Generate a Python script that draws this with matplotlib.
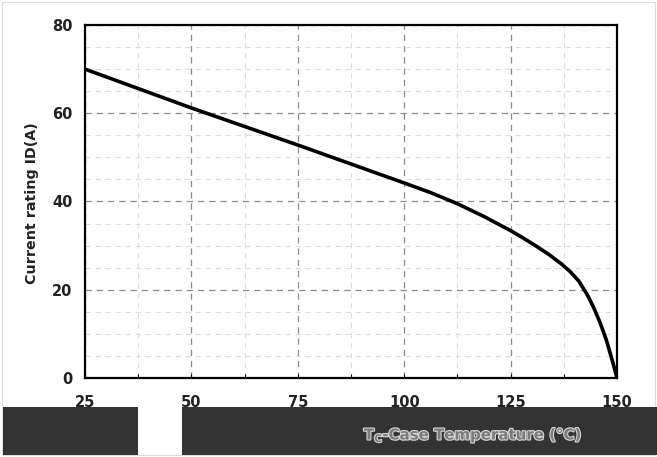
import matplotlib
matplotlib.use("Agg")
import matplotlib.pyplot as plt
import matplotlib.patheffects as pe
from matplotlib.patches import Rectangle
from matplotlib.ticker import MultipleLocator

plt.rcParams['font.family'] = ['DejaVu Sans']

# Derating curve: case temperature (°C) vs. continuous drain current (A)
case_temp = [25, 50, 75, 100, 106.25, 112.5, 118.75, 125, 128, 131, 134, 137, 139, 141,
             143, 144.5, 146, 147.5, 149, 150]
current_a = [70.0, 61.2, 52.8, 44.2, 42.0, 39.5, 36.6, 33.4, 31.7, 29.9, 28.0, 25.8, 24.1, 22.0,
             18.9, 16.0, 12.6, 8.6, 3.6, 0.0]

x_ticks = [25, 50, 75, 100, 125, 150]
y_ticks = [0, 20, 40, 60, 80]

W, H = 657, 457
fig = plt.figure(figsize=(W / 100, H / 100), dpi=100)
ax = fig.add_axes([85 / W, 1 - 378 / H, (617 - 85) / W, (378 - 25) / H])

ax.plot(case_temp, current_a, color='black', lw=2.6, solid_joinstyle='round', zorder=3)

ax.set_xlim(25, 150)
ax.set_ylim(0, 80)
ax.set_xticks(x_ticks)
ax.set_yticks(y_ticks)
ax.xaxis.set_minor_locator(MultipleLocator(12.5))
ax.yaxis.set_minor_locator(MultipleLocator(5))

ax.grid(which='major', color='#8a8a8a', linestyle=(0, (5, 4)), lw=0.9)
ax.grid(which='minor', color='#dddddd', linestyle=(0, (5, 4)), lw=0.8)
ax.set_axisbelow(True)

for s in ax.spines.values():
    s.set_linewidth(1.6)
    s.set_color('black')

ax.tick_params(which='both', direction='in', length=3, width=0.8, colors='black')
ax.tick_params(axis='y', which='both', length=0, pad=9)
ax.tick_params(axis='x', which='major', pad=12)
for lbl in ax.get_xticklabels() + ax.get_yticklabels():
    lbl.set_fontsize(10.5)
    lbl.set_fontweight('bold')
    lbl.set_color('#222222')

fig.text(32 / W, 1 - 203 / H, 'Current rating ID(A)', rotation=90, ha='center', va='center',
         fontsize=10.3, fontweight='bold', color='#222222')

# Dark caption band under the axis
band_h = (455 - 407) / H
fig.add_artist(Rectangle((3 / W, 1 - 455 / H), (138 - 3) / W, band_h, transform=fig.transFigure,
                         facecolor='#333333', edgecolor='none', zorder=5))
fig.add_artist(Rectangle((182 / W, 1 - 455 / H), (657 - 182) / W, band_h, transform=fig.transFigure,
                         facecolor='#333333', edgecolor='none', zorder=5))
fig.text(473 / W, 1 - 435 / H, r'T$_\mathregular{C}$-Case Temperature (°C)', ha='center', va='center',
         fontsize=10.8, fontweight='bold', color='#7a7a7a', zorder=6,
         path_effects=[pe.withStroke(linewidth=1.6, foreground='#d8d8d8')])

# Thin light frame around the figure
fig.add_artist(Rectangle((2 / W, 2 / H), (W - 4) / W, (H - 4) / H, transform=fig.transFigure,
                         facecolor='none', edgecolor='#dddddd', lw=0.8, zorder=4))

fig.savefig('out.png', dpi=100)
